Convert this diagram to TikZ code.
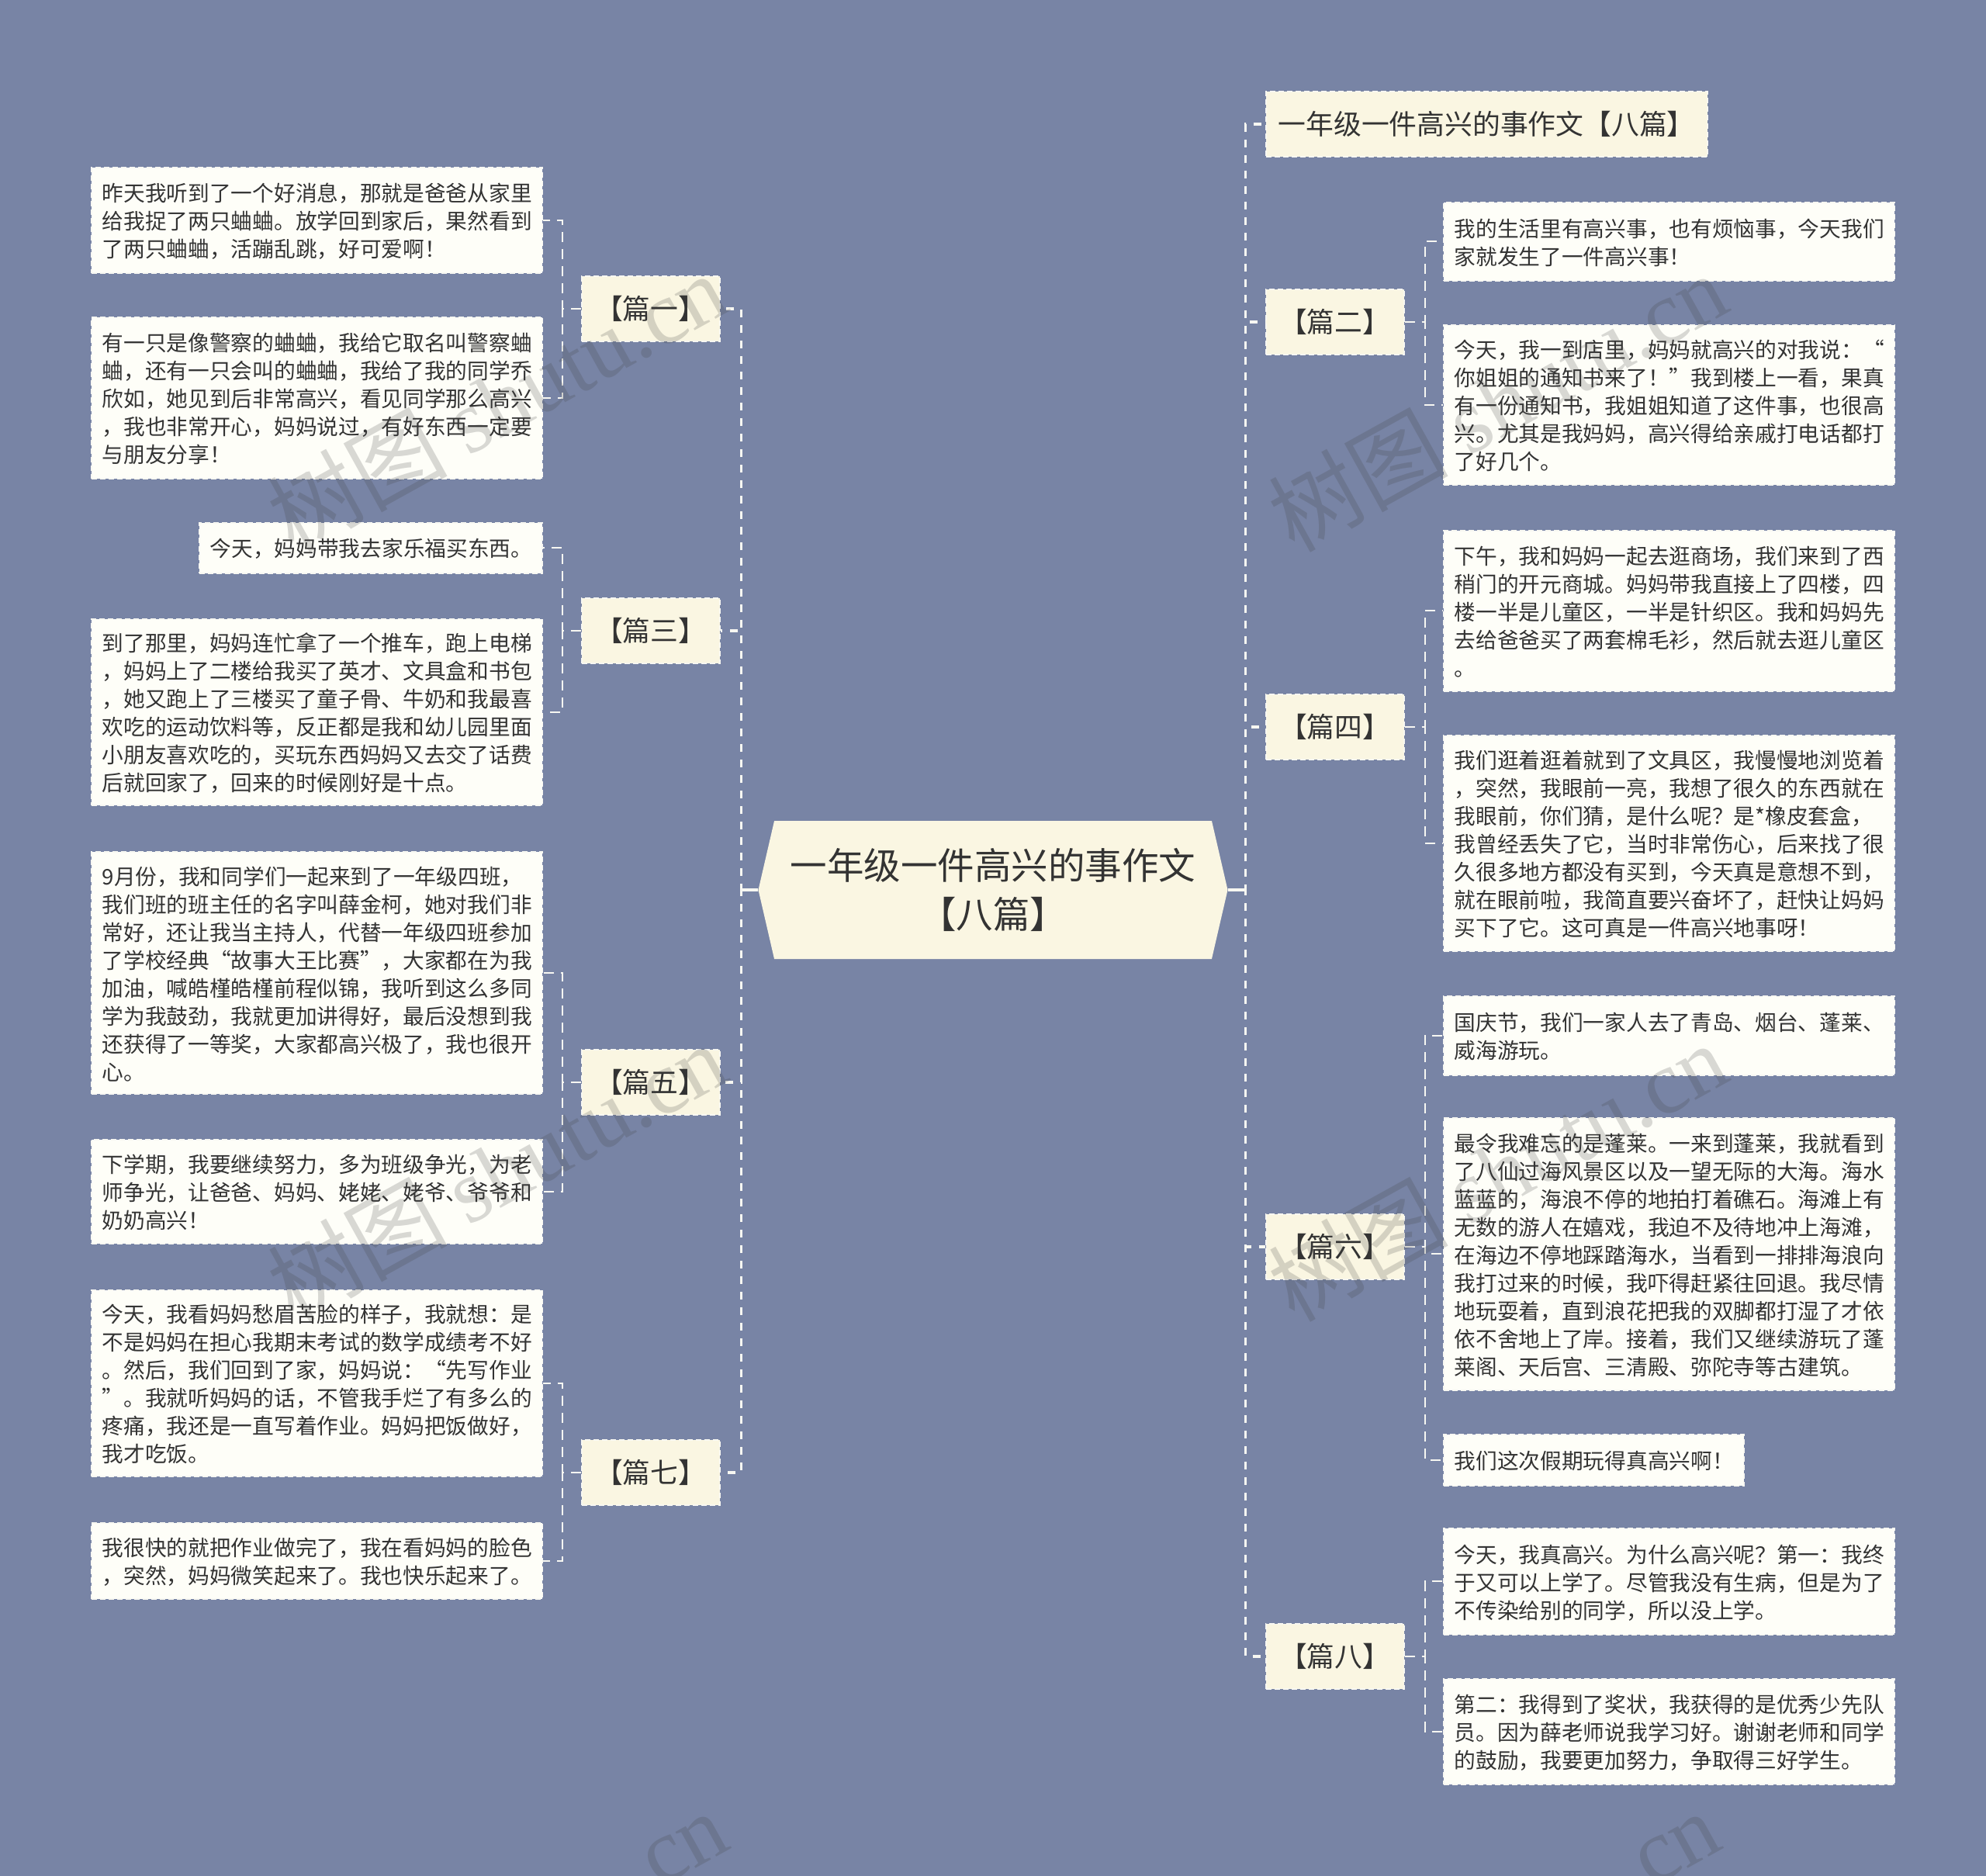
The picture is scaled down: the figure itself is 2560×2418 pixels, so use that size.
\documentclass[tikz,border=0pt]{standalone}
\usepackage{fontspec}
\setmainfont{Noto Sans CJK SC}
\newfontfamily\markfont{Liberation Serif}
\usetikzlibrary{shapes.symbols}
\definecolor{bgblue}{HTML}{7884A5}
\definecolor{creamfill}{HTML}{FAF6E2}
\definecolor{leaffill}{HTML}{FEFEF8}
\definecolor{inkgray}{HTML}{333333}
\definecolor{dashwhite}{HTML}{F7F7F2}
\tikzset{
  rootbox/.style = {signal, signal to = east and west, signal pointer angle = 154,
    fill = creamfill, text = inkgray, align = center, inner sep = 0pt,
    minimum width = 605, minimum height = 178,
    font = \fontsize{47.5}{63}\selectfont},
  partbox/.style = {fill = creamfill, text = inkgray, align = center, inner sep = 0pt,
    draw = dashwhite, line width = 1.5, dash pattern = on 7 off 4,
    minimum width = 178, minimum height = 84, anchor = west,
    font = \fontsize{35.8}{44}\selectfont},
  leafbox/.style = {fill = leaffill, text = inkgray, align = left, inner xsep = 14, inner ysep = 0,
    draw = dashwhite, line width = 1.5, dash pattern = on 7 off 4,
    text width = 553.5, anchor = north west, font = \fontsize{27.7}{36}\selectfont,
    execute at end node = {\par\vspace{-3pt}}},
  stemline/.style = {draw = dashwhite, line width = 3.5},
  trunkline/.style = {draw = dashwhite, line width = 3.5, dash pattern = on 10 off 10},
  branchline/.style = {draw = dashwhite, line width = 2, dash pattern = on 13 off 9},
  markbox/.style = {text = black!75, opacity = 0.2, rotate = 29, inner sep = 0pt,
    font = \fontsize{116}{116}\selectfont}
}
\begin{document}
\begin{tikzpicture}[x = 1pt, y = -1pt]
  \path[use as bounding box, fill = bgblue] (0,0) rectangle (2560,2418);

  \node[rootbox] (root) at (1280,1147) {一年级一件高兴的事作文\\【八篇】};

  % left side
  \node[partbox] (pone) at (749,398) {【篇一】};
  \node[partbox] (pthree) at (749,813) {【篇三】};
  \node[partbox] (pfive) at (749,1395) {【篇五】};
  \node[partbox] (pseven) at (749,1898) {【篇七】};

  \node[leafbox, minimum height = 136] (oneA) at (117,215) {
    昨天我听到了一个好消息，那就是爸爸从家里\\
    给我捉了两只蛐蛐。放学回到家后，果然看到\\
    了两只蛐蛐，活蹦乱跳，好可爱啊！};
  \node[leafbox, minimum height = 208] (oneB) at (117,408) {
    有一只是像警察的蛐蛐，我给它取名叫警察蛐\\
    蛐，还有一只会叫的蛐蛐，我给了我的同学乔\\
    欣如，她见到后非常高兴，看见同学那么高兴\\
    ，我也非常开心，妈妈说过，有好东西一定要\\
    与朋友分享！};
  \node[leafbox, text width = 414, minimum height = 65] (threeA) at (256,673) {
    今天，妈妈带我去家乐福买东西。};
  \node[leafbox, minimum height = 240] (threeB) at (117,797) {
    到了那里，妈妈连忙拿了一个推车，跑上电梯\\
    ，妈妈上了二楼给我买了英才、文具盒和书包\\
    ，她又跑上了三楼买了童子骨、牛奶和我最喜\\
    欢吃的运动饮料等，反正都是我和幼儿园里面\\
    小朋友喜欢吃的，买玩东西妈妈又去交了话费\\
    后就回家了，回来的时候刚好是十点。};
  \node[leafbox, minimum height = 312] (fiveA) at (117,1097) {
    9月份，我和同学们一起来到了一年级四班，\\
    我们班的班主任的名字叫薛金柯，她对我们非\\
    常好，还让我当主持人，代替一年级四班参加\\
    了学校经典“故事大王比赛”，大家都在为我\\
    加油，喊皓槿皓槿前程似锦，我听到这么多同\\
    学为我鼓劲，我就更加讲得好，最后没想到我\\
    还获得了一等奖，大家都高兴极了，我也很开\\
    心。};
  \node[leafbox, minimum height = 134] (fiveB) at (117,1468) {
    下学期，我要继续努力，多为班级争光，为老\\
    师争光，让爸爸、妈妈、姥姥、姥爷、爷爷和\\
    奶奶高兴！};
  \node[leafbox, minimum height = 240] (sevenA) at (117,1662) {
    今天，我看妈妈愁眉苦脸的样子，我就想：是\\
    不是妈妈在担心我期末考试的数学成绩考不好\\
    。然后，我们回到了家，妈妈说：“先写作业\\
    ”。我就听妈妈的话，不管我手烂了有多么的\\
    疼痛，我还是一直写着作业。妈妈把饭做好，\\
    我才吃饭。};
  \node[leafbox, minimum height = 98] (sevenB) at (117,1962) {
    我很快的就把作业做完了，我在看妈妈的脸色\\
    ，突然，妈妈微笑起来了。我也快乐起来了。};

  % right side
  \node[partbox, minimum width = 569] (title) at (1631,160) {一年级一件高兴的事作文【八篇】};
  \node[partbox] (ptwo) at (1631,415) {【篇二】};
  \node[partbox] (pfour) at (1631,937) {【篇四】};
  \node[partbox] (psix) at (1631,1607) {【篇六】};
  \node[partbox] (peight) at (1631,2135) {【篇八】};

  \node[leafbox, minimum height = 101] (twoA) at (1860,260) {
    我的生活里有高兴事，也有烦恼事，今天我们\\
    家就发生了一件高兴事！};
  \node[leafbox, minimum height = 206] (twoB) at (1860,418) {
    今天，我一到店里，妈妈就高兴的对我说：“\\
    你姐姐的通知书来了！”我到楼上一看，果真\\
    有一份通知书，我姐姐知道了这件事，也很高\\
    兴。尤其是我妈妈，高兴得给亲戚打电话都打\\
    了好几个。};
  \node[leafbox, minimum height = 207] (fourA) at (1860,683) {
    下午，我和妈妈一起去逛商场，我们来到了西\\
    稍门的开元商城。妈妈带我直接上了四楼，四\\
    楼一半是儿童区，一半是针织区。我和妈妈先\\
    去给爸爸买了两套棉毛衫，然后就去逛儿童区\\
    。};
  \node[leafbox, minimum height = 278] (fourB) at (1860,947) {
    我们逛着逛着就到了文具区，我慢慢地浏览着\\
    ，突然，我眼前一亮，我想了很久的东西就在\\
    我眼前，你们猜，是什么呢？是*橡皮套盒，\\
    我曾经丢失了它，当时非常伤心，后来找了很\\
    久很多地方都没有买到，今天真是意想不到，\\
    就在眼前啦，我简直要兴奋坏了，赶快让妈妈\\
    买下了它。这可真是一件高兴地事呀！};
  \node[leafbox, minimum height = 102] (sixA) at (1860,1283) {
    国庆节，我们一家人去了青岛、烟台、蓬莱、\\
    威海游玩。};
  \node[leafbox, minimum height = 351] (sixB) at (1860,1440) {
    最令我难忘的是蓬莱。一来到蓬莱，我就看到\\
    了八仙过海风景区以及一望无际的大海。海水\\
    蓝蓝的，海浪不停的地拍打着礁石。海滩上有\\
    无数的游人在嬉戏，我迫不及待地冲上海滩，\\
    在海边不停地踩踏海水，当看到一排排海浪向\\
    我打过来的时候，我吓得赶紧往回退。我尽情\\
    地玩耍着，直到浪花把我的双脚都打湿了才依\\
    依不舍地上了岸。接着，我们又继续游玩了蓬\\
    莱阁、天后宫、三清殿、弥陀寺等古建筑。};
  \node[leafbox, text width = 359, minimum height = 66] (sixC) at (1860,1848) {
    我们这次假期玩得真高兴啊！};
  \node[leafbox, minimum height = 137] (eightA) at (1860,1969) {
    今天，我真高兴。为什么高兴呢？第一：我终\\
    于又可以上学了。尽管我没有生病，但是为了\\
    不传染给别的同学，所以没上学。};
  \node[leafbox, minimum height = 136] (eightB) at (1860,2163) {
    第二：我得到了奖状，我获得的是优秀少先队\\
    员。因为薛老师说我学习好。谢谢老师和同学\\
    的鼓励，我要更加努力，争取得三好学生。};

  % connectors
  \foreach \part in {pone,pthree,pfive,pseven}
    \draw[trunkline] (root.west) -- ++(-22,0) |- (\part.east);
  \foreach \part in {title,ptwo,pfour,psix,peight}
    \draw[trunkline] (root.east) -- ++(23,0) |- (\part.west);
  \draw[stemline] (root.west) -- ++(-22,0);
  \draw[stemline] (root.east) -- ++(23,0);
  \foreach \part/\leaf in {pone/oneA,pone/oneB,pthree/threeA,pthree/threeB,
      pfive/fiveA,pfive/fiveB,pseven/sevenA,pseven/sevenB}
    \draw[branchline] (\part.west) -- ++(-24,0) |- (\leaf.east);
  \foreach \part/\leaf in {ptwo/twoA,ptwo/twoB,pfour/fourA,pfour/fourB,
      psix/sixA,psix/sixB,psix/sixC,peight/eightA,peight/eightB}
    \draw[branchline] (\part.east) -- ++(26,0) |- (\leaf.west);

  % watermark
  \foreach \x in {640,1930}
    \foreach \y in {518,1510}
      \node[markbox] (mark) at (\x,\y) {树图 {\markfont shutu.cn}};
  \node[markbox] (markcnA) at (884,2384) {\markfont cn};
  \node[markbox] (markcnB) at (2163,2384) {\markfont cn};
\end{tikzpicture}
\end{document}
